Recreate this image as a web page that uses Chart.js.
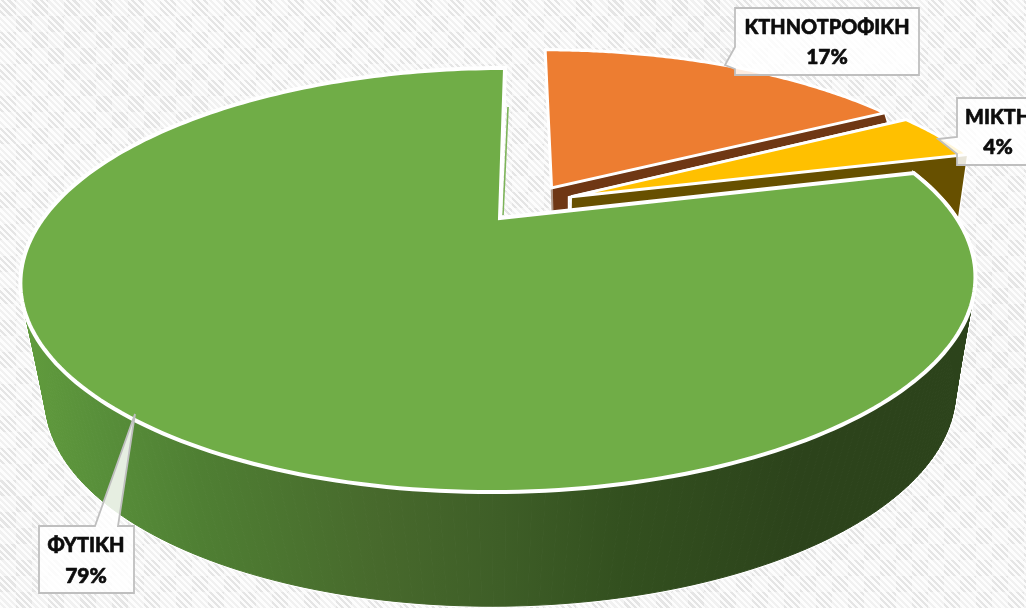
<!DOCTYPE html>
<html><head><meta charset="utf-8">
<style>
html,body{margin:0;padding:0;width:1026px;height:608px;overflow:hidden;background:#fff}
#wrap{position:absolute;left:0;top:0;width:1026px;height:608px;
background-image:
 repeating-conic-gradient(rgba(255,255,255,.45) 0 25%,rgba(255,255,255,0) 0 50%),
 repeating-linear-gradient(45deg,#fcfcfc 0 2.4px,#e5e5e5 2.4px 4.6px);
background-size:32px 32px,auto;}
canvas{display:block}
</style>
<script src="https://cdn.jsdelivr.net/npm/chart.js@4"></script>
</head><body><div id="wrap"><canvas id="c" width="1026" height="608"></canvas></div>
<script>
const categories = ['ΚΤΗΝΟΤΡΟΦΙΚΗ', 'ΜΙΚΤΗ', 'ΦΥΤΙΚΗ'];
const shares = [17, 4, 79];
const topColors = ['#ED7D31', '#FFC000', '#70AD47'];
const wallColors = ['#6F3714', '#675000', null];
const explode = [55, 54, 0];
const explodeDirDeg = [35.5, 54.5, 0];
const wallNarrow = [0, -22, 0];

// perspective of the top face and of the lower rim
const T = {x:500,y:218,a:456.6,b:193.9,p:0.2925,e:6.5};
const L = {x:502,y:353,a:446,b:202.6,p:0.2,e:8};
function proj(u,v,z,k){
  const m=z?L:T, w=1+m.p*v;
  return [m.x+(m.a*u+m.e*v)/w+(z?(k||0)*u:0), m.y-m.b*v/w];
}
function sliceGeom(arc,i){
  const g=arc.getProps(['startAngle','endAngle','outerRadius'],true);
  const off=(arc.options.offset||0)/g.outerRadius, dir=explodeDirDeg[i]*Math.PI/180;
  return {s:g.startAngle+Math.PI/2,e:g.endAngle+Math.PI/2,ou:off*Math.sin(dir),ov:off*Math.cos(dir),k:wallNarrow[i]};
}
function rim(g,z,t){ return proj(g.ou+Math.sin(t),g.ov+Math.cos(t),z,g.k); }
function apex(g,z){ return proj(g.ou,g.ov,z,g.k); }
function poly(ctx,pts){ctx.beginPath();pts.forEach((p,i)=>i?ctx.lineTo(p[0],p[1]):ctx.moveTo(p[0],p[1]));ctx.closePath();}
function rimPts(g,z,n=120){const r=[];for(let i=0;i<=n;i++)r.push(rim(g,z,g.s+(g.e-g.s)*i/n));return r;}

const callouts = [
 {box:[735,8,184,67],tip:[[735,47],[725,65],[735,69]],l1:27,l2:57,cx:827,w:165},
 {box:[957,98,82,67],tip:[[957,137],[938,139],[957,154]],l1:117,l2:147,cx:998,w:66},
 {box:[39,526,95,67],tip:[[95,526],[135,414],[118,526]],l1:545,l2:576,cx:86,w:77,top:true}
];
function drawCallout(ctx,o,name,val){
  const [x,y,w,h]=o.box;
  const pts=[];
  if(o.top){pts.push([x,y],o.tip[0],o.tip[1],o.tip[2],[x+w,y],[x+w,y+h],[x,y+h]);}
  else{pts.push([x,y],[x+w,y],[x+w,y+h],[x,y+h],[x,o.tip[2][1]],o.tip[1],o.tip[0]);}
  poly(ctx,pts);
  ctx.fillStyle='rgba(255,255,255,0.85)';ctx.fill();
  ctx.lineWidth=1.8;ctx.strokeStyle='#BFBFBF';ctx.lineJoin='miter';ctx.stroke();
  ctx.fillStyle='#0D0D0D';ctx.strokeStyle='#0D0D0D';ctx.lineWidth=0.6;ctx.lineJoin='round';
  ctx.font='900 21px Lato, "Open Sans"';ctx.textAlign='center';ctx.textBaseline='middle';
  ctx.fillText(name,o.cx,o.l1,o.w);ctx.strokeText(name,o.cx,o.l1,o.w);
  ctx.fillText(val+'%',o.cx,o.l2);ctx.strokeText(val+'%',o.cx,o.l2);
}

const pie3d={
 id:'pie3d',
 beforeDatasetDraw(chart,args){
  const ctx=chart.ctx, arcs=chart.getDatasetMeta(args.index).data;
  ctx.save();ctx.lineJoin='miter';
  // orange
  let g=sliceGeom(arcs[0],0);
  const A=apex(g,0),E=rim(g,0,g.e);
  const Tl=[E[0]+3,E[1]+10];
  poly(ctx,[A,E,Tl,[A[0]+17,A[1]+9],[A[0]+17,A[1]+32],[A[0],A[1]+32]]);
  ctx.fillStyle=wallColors[0];ctx.fill();ctx.lineWidth=1.5;ctx.strokeStyle='#fff';ctx.stroke();
  ctx.beginPath();ctx.moveTo(A[0]-3,A[1]-92);ctx.lineTo(A[0]+1,A[1]+25);ctx.lineWidth=2;ctx.strokeStyle='#b09a8a';ctx.stroke();
  poly(ctx,[A,...rimPts(g,0)]);
  ctx.fillStyle=topColors[0];ctx.fill();ctx.lineWidth=3;ctx.strokeStyle='#fff';ctx.stroke();
  // yellow
  g=sliceGeom(arcs[1],1);
  poly(ctx,[...rimPts(g,0,30),...rimPts(g,1,30).reverse()]);ctx.fillStyle=wallColors[1];ctx.fill();
  poly(ctx,[apex(g,0),rim(g,0,g.e),rim(g,1,g.e),apex(g,1)]);ctx.fill();
  ctx.lineWidth=1.5;ctx.strokeStyle='#fff';ctx.stroke();
  poly(ctx,[apex(g,0),...rimPts(g,0,30)]);
  ctx.fillStyle=topColors[1];ctx.fill();ctx.lineWidth=3;ctx.strokeStyle='#fff';ctx.stroke();
  // green
  g=sliceGeom(arcs[2],2);
  const grad=ctx.createLinearGradient(20,0,975,0);
  [[0,'#619C3D'],[.084,'#588F3A'],[.188,'#4F7F33'],[.377,'#47692C'],[.503,'#3E5E27'],[.628,'#33501F'],[.817,'#2C431B'],[1,'#2C431B']].forEach(s=>grad.addColorStop(s[0],s[1]));
  const N=240, up=rimPts(g,0,N), lo=rimPts(g,1,N);
  const quads=[];
  for(let i=0;i<N;i++){
    const t=g.s+(g.e-g.s)*i/N;
    if(Math.cos(t)<0.3) quads.push([up[i],up[i+1],lo[i+1],lo[i]]);
  }
  ctx.strokeStyle='#fff';ctx.lineWidth=3;
  quads.forEach(q=>{poly(ctx,q);ctx.stroke();});
  ctx.fillStyle=grad;ctx.strokeStyle=grad;ctx.lineWidth=1;
  quads.forEach(q=>{poly(ctx,q);ctx.fill();ctx.stroke();});
  const Ag=apex(g,0),Eg=rim(g,0,g.e);
  ctx.beginPath();ctx.moveTo(Eg[0]+3,Eg[1]+39);ctx.lineTo(Ag[0]+3,Ag[1]-3);ctx.lineWidth=1.6;ctx.strokeStyle='#7DB45A';ctx.stroke();
  poly(ctx,[Ag,...up]);
  ctx.fillStyle=topColors[2];ctx.fill();ctx.lineWidth=4;ctx.strokeStyle='#fff';ctx.stroke();
  ctx.restore();
  return false;
 },
 afterDatasetsDraw(chart){
  const ctx=chart.ctx;ctx.save();
  callouts.forEach((o,i)=>drawCallout(ctx,o,categories[i],shares[i]));
  ctx.restore();
 }
};

new Chart(document.getElementById('c'),{
 type:'pie',
 data:{labels:categories,datasets:[{data:shares,backgroundColor:topColors,borderColor:'#fff',offset:explode}]},
 options:{responsive:false,animation:false,events:[],layout:{padding:0},
  plugins:{legend:{display:false},tooltip:{enabled:false},title:{display:false}}},
 plugins:[pie3d]
});
</script></body></html>
